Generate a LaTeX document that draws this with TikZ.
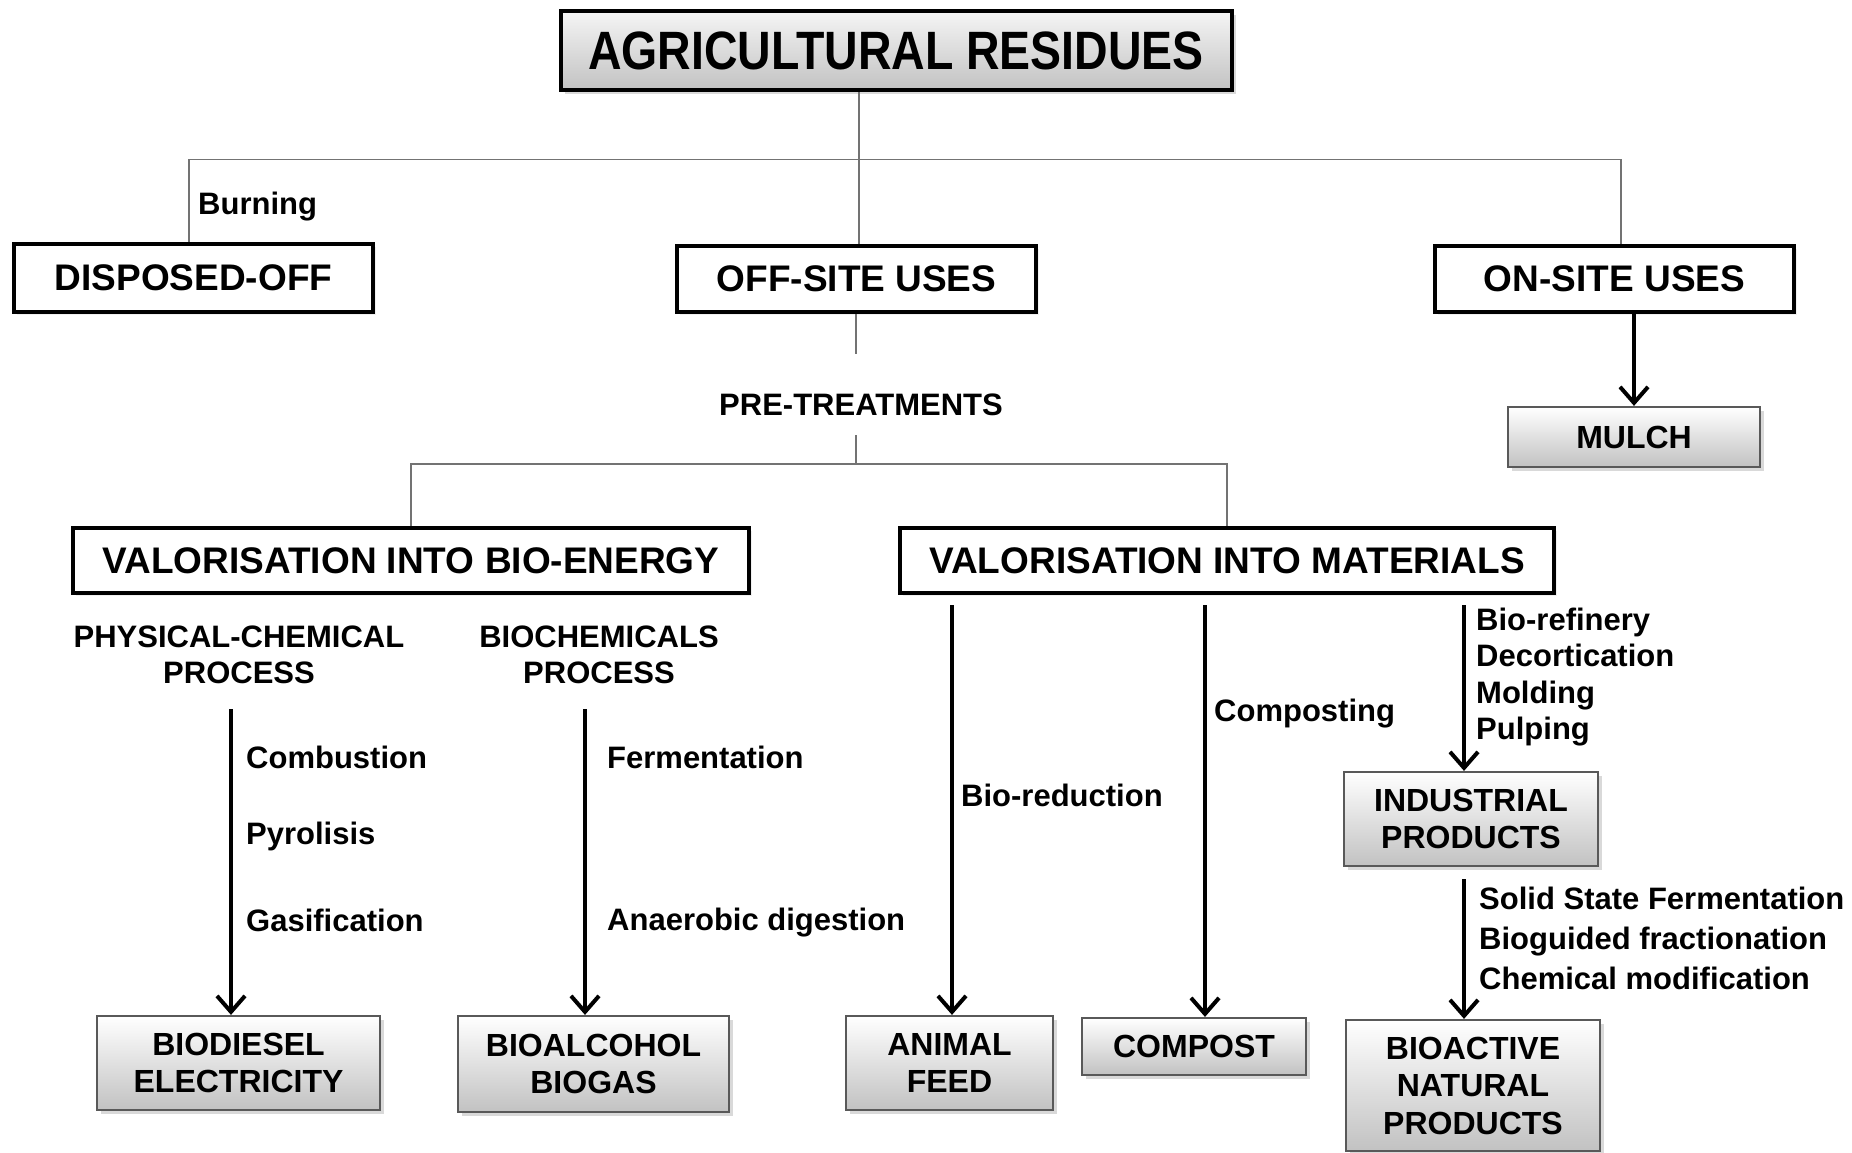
\documentclass[tikz,border=0pt]{standalone}
\usepackage{graphicx}
\usepackage{fontspec}
\setmainfont{Liberation Sans}
\usetikzlibrary{arrows.meta, positioning, shadows}

\newcommand{\rootfs}{\fontsize{54}{60}\selectfont\bfseries}
\newcommand{\usefs}{\fontsize{37}{42}\selectfont\bfseries}
\newcommand{\prodfs}{\fontsize{32}{37.5}\selectfont\bfseries}
\newcommand{\procfs}{\fontsize{31}{36}\selectfont\bfseries}
\newcommand{\stepfs}{\fontsize{31}{36.6}\selectfont\bfseries}

\tikzset{
  rootbox/.style={draw, line width=4pt, inner sep=0pt, top color=black!4, bottom color=black!24,
    drop shadow={shadow xshift=4pt, shadow yshift=-4pt, opacity=0.3}, font=\rootfs},
  usebox/.style={draw, line width=4pt, inner sep=0pt, fill=white,
    drop shadow={shadow xshift=3pt, shadow yshift=-3pt, opacity=0.12}, font=\usefs},
  prodbox/.style={draw=black!65, line width=2.2pt, inner sep=0pt, top color=white, bottom color=black!24,
    drop shadow={shadow xshift=4pt, shadow yshift=-4pt, opacity=0.3}, font=\prodfs, align=center},
  branch/.style={black!55, line width=1.6pt},
  flow/.style={line width=4pt, -{Straight Barb[length=16pt, width=28pt]}},
  steplbl/.style={font=\stepfs, anchor=west, align=left, inner sep=0pt},
  proclbl/.style={font=\procfs, align=center, inner sep=0pt}
}

\begin{document}
\begin{tikzpicture}[x=1pt, y=-1pt]
  \useasboundingbox (0,0) rectangle (1852,1153);
  % Top of the tree
  \node[rootbox, minimum width=671pt, minimum height=79pt] (root) at (896,51)
    {\scalebox{0.86}[1]{AGRICULTURAL RESIDUES}};
  \node[usebox, minimum width=359pt, minimum height=68pt] (dispose) at (193.5,278) {DISPOSED-OFF};
  \node[usebox, minimum width=359pt, minimum height=66pt] (offsite) at (856.5,279) {OFF-SITE USES};
  \node[usebox, minimum width=359pt, minimum height=66pt] (onsite) at (1614.5,279) {ON-SITE USES};
  \node[prodbox, minimum width=252pt, minimum height=60pt] (mulch) at (1634,437) {MULCH};
  % Tree lines
  \coordinate (hub) at (859,159.5);
  \coordinate (burnknee) at (189,159.5);
  \coordinate (onknee) at (1621,159.5);
  \draw[branch] (root.south -| hub) -- (offsite.north -| hub);
  \draw[branch] (dispose.north -| burnknee) -- (burnknee) -- (onknee) -- (onsite.north -| onknee);
  \node[steplbl] (burn) at (198,207) {Burning};
  \draw[flow] (onsite.south -| mulch.north) -- (mulch.north);
  % Pre-treatments
  \node[font=\procfs, inner sep=0pt] (pretreat) at (861,405) {PRE-TREATMENTS};
  \coordinate (pretop) at (856,354);
  \coordinate (prebot) at (856,435);
  \coordinate (split) at (856,464);
  \draw[branch] (offsite.south -| pretop) -- (pretop);
  \draw[branch] (prebot) -- (split);
  \node[usebox, minimum width=676pt, minimum height=65pt] (bioen) at (411,560.5) {VALORISATION INTO BIO-ENERGY};
  \node[usebox, minimum width=654pt, minimum height=65pt] (mater) at (1227,560.5) {VALORISATION INTO MATERIALS};
  \draw[branch] (bioen.north) -- (bioen.north |- split) -- (mater.north |- split) -- (mater.north);
  % Processes
  \node[proclbl] (physchem) at (239,655) {PHYSICAL-CHEMICAL\\PROCESS};
  \node[proclbl] (biochem) at (599,655) {BIOCHEMICALS\\PROCESS};
  % Products
  \node[prodbox, minimum width=283pt, minimum height=94pt] (diesel) at (238.5,1063) {BIODIESEL\\ELECTRICITY};
  \node[prodbox, minimum width=271pt, minimum height=96pt] (alcohol) at (593.5,1064) {BIOALCOHOL\\BIOGAS};
  \node[prodbox, minimum width=207pt, minimum height=94pt] (feed) at (949.5,1063) {ANIMAL\\FEED};
  \node[prodbox, minimum width=224pt, minimum height=57pt] (compost) at (1194,1046.5) {COMPOST};
  \node[prodbox, minimum width=254pt, minimum height=94pt] (industrial) at (1471,819) {INDUSTRIAL\\PRODUCTS};
  \node[prodbox, minimum width=254pt, minimum height=131pt] (bioactive) at (1473,1085.5) {BIOACTIVE\\NATURAL\\PRODUCTS};
  % Arrows
  \coordinate (f1) at (231,709);
  \coordinate (f2) at (585,709);
  \coordinate (f3) at (952,605);
  \coordinate (f4) at (1205,605);
  \coordinate (f5) at (1464,605);
  \coordinate (f6) at (1464,879);
  \draw[flow] (f1) -- (f1 |- diesel.north);
  \draw[flow] (f2) -- (f2 |- alcohol.north);
  \draw[flow] (f3) -- (f3 |- feed.north);
  \draw[flow] (f4) -- (f4 |- compost.north);
  \draw[flow] (f5) -- (f5 |- industrial.north);
  \draw[flow] (f6) -- (f6 |- bioactive.north);
  % Step labels
  \node[steplbl] (combust) at (246,757) {Combustion};
  \node[steplbl] (pyro) at (246,836) {Pyrolisis};
  \node[steplbl] (gasif) at (246,920) {Gasification};
  \node[steplbl] (ferment) at (607,757) {Fermentation};
  \node[steplbl] (anaer) at (607,923) {Anaerobic digestion};
  \node[steplbl] (bioreduc) at (961,795) {Bio-reduction};
  \node[steplbl] (composting) at (1214,714) {Composting};
  \node[steplbl] (refining) at (1476,677) {Bio-refinery\\Decortication\\Molding\\Pulping};
  \node[steplbl, font=\fontsize{31}{40}\selectfont\bfseries] (extract) at (1479,938)
    {Solid State Fermentation\\Bioguided fractionation\\Chemical modification};
\end{tikzpicture}
\end{document}
